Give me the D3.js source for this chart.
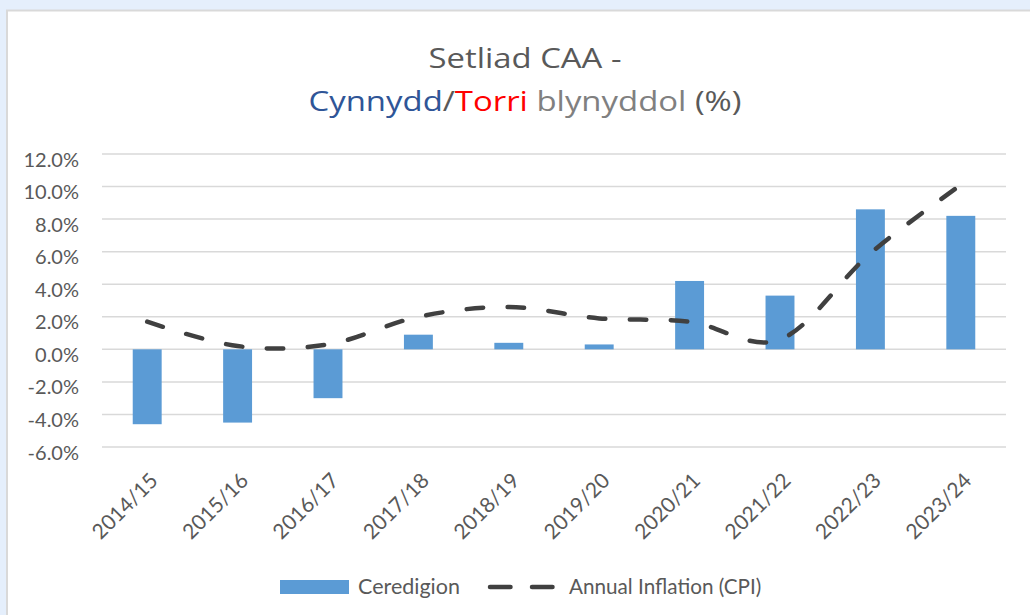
<!DOCTYPE html>
<html>
<head>
<meta charset="utf-8">
<script src="https://cdn.jsdelivr.net/npm/d3@7"></script>
<style>
  body { margin: 0; background: #e5effc; }
  text { font-family: Lato, "Open Sans", sans-serif; }
  .title { font-family: "Open Sans", Lato, sans-serif; }
</style>
</head>
<body>
<div id="chart"></div>
<script>
// Setliad CAA vs annual inflation
const years = ['2014/15', '2015/16', '2016/17', '2017/18', '2018/19',
  '2019/20', '2020/21', '2021/22', '2022/23', '2023/24'];
const ceredigion = [-4.6, -4.5, -3.0, 0.9, 0.4, 0.3, 4.2, 3.3, 8.6, 8.2];
const inflation = [1.7, 0.2, 0.3, 2.0, 2.6, 1.9, 1.7, 0.6, 5.9, 10.1];
const yTicks = [-6, -4, -2, 0, 2, 4, 6, 8, 10, 12];

const width = 1030;
const height = 615;
const barColor = '#5b9bd5';
const lineColor = '#404040';
const textColor = '#595959';

const svg = d3.select('#chart')
  .append('svg')
  .attr('width', width)
  .attr('height', height);

svg.append('rect')
  .attr('width', width)
  .attr('height', height)
  .attr('fill', '#e5effc');

// white chart panel
svg.append('rect')
  .attr('x', 7)
  .attr('y', 10.5)
  .attr('width', width)
  .attr('height', height)
  .attr('fill', '#fff')
  .attr('stroke', '#d9d9d9')
  .attr('stroke-width', 2);

const x = d3.scaleBand().domain(years).range([102, 1006]);
const y = d3.scaleLinear().domain([-6, 12]).range([447, 154]);

// title (stretched a bit to match the wider original font)
svg.append('text')
  .attr('class', 'title')
  .attr('text-anchor', 'middle')
  .attr('font-size', 28)
  .attr('x', 525)
  .attr('y', 68)
  .attr('textLength', 193)
  .attr('lengthAdjust', 'spacingAndGlyphs')
  .attr('fill', textColor)
  .text('Setliad CAA -');
const line2 = svg.append('text')
  .attr('class', 'title')
  .attr('text-anchor', 'middle')
  .attr('font-size', 28)
  .attr('x', 525)
  .attr('y', 111)
  .attr('textLength', 433)
  .attr('lengthAdjust', 'spacingAndGlyphs');
line2.append('tspan').attr('fill', '#2f5597').text('Cynnydd');
line2.append('tspan').attr('fill', textColor).text('/');
line2.append('tspan').attr('fill', '#ff0000').text('Torri');
line2.append('tspan').attr('fill', '#808080').text(' blynyddol');
line2.append('tspan').attr('fill', textColor).text(' (%)');

// gridlines
svg.append('g')
  .selectAll('line')
  .data(yTicks)
  .enter()
  .append('line')
  .attr('x1', 102)
  .attr('x2', 1006)
  .attr('y1', d => y(d))
  .attr('y2', d => y(d))
  .attr('stroke', '#d9d9d9')
  .attr('stroke-width', 1.5);

// y labels
svg.append('g')
  .selectAll('text')
  .data(yTicks)
  .enter()
  .append('text')
  .attr('x', 79)
  .attr('y', d => y(d) + 12.5)
  .attr('text-anchor', 'end')
  .attr('font-size', 20)
  .attr('fill', textColor)
  .text(d => `${d.toFixed(1)}%`);

// bars
const barWidth = x.bandwidth() * 0.32;
svg.append('g')
  .selectAll('rect')
  .data(ceredigion)
  .enter()
  .append('rect')
  .attr('x', (d, i) => x(years[i]) + (x.bandwidth() - barWidth) / 2)
  .attr('y', d => y(Math.max(0, d)))
  .attr('width', barWidth)
  .attr('height', d => Math.abs(y(d) - y(0)))
  .attr('fill', barColor);

// inflation line
const line = d3.line()
  .x((d, i) => x(years[i]) + x.bandwidth() / 2)
  .y(d => y(d))
  .curve(d3.curveCardinal.tension(0));

svg.append('path')
  .datum(inflation)
  .attr('d', line)
  .attr('fill', 'none')
  .attr('stroke', lineColor)
  .attr('stroke-width', 4.5)
  .attr('stroke-linecap', 'round')
  .attr('stroke-dasharray', '16.5,24.5');

// x labels
svg.append('g')
  .selectAll('text')
  .data(years)
  .enter()
  .append('text')
  .attr('transform', d => `translate(${x(d) + x.bandwidth() / 2 + 12},${482}) rotate(-45)`)
  .attr('text-anchor', 'end')
  .attr('font-size', 21)
  .attr('fill', textColor)
  .text(d => d);

// legend
const legend = svg.append('g');
legend.append('rect')
  .attr('x', 280)
  .attr('y', 580)
  .attr('width', 69)
  .attr('height', 14)
  .attr('fill', barColor);
legend.append('text')
  .attr('x', 358)
  .attr('y', 594)
  .attr('font-size', 21.5)
  .attr('fill', textColor)
  .text('Ceredigion');
legend.append('line')
  .attr('x1', 490)
  .attr('x2', 553)
  .attr('y1', 587)
  .attr('y2', 587)
  .attr('stroke', lineColor)
  .attr('stroke-width', 4.5)
  .attr('stroke-linecap', 'round')
  .attr('stroke-dasharray', '20.5,21.5');
legend.append('text')
  .attr('x', 569)
  .attr('y', 594)
  .attr('font-size', 20.7)
  .attr('fill', textColor)
  .text('Annual Inflation (CPI)');
</script>
</body>
</html>
